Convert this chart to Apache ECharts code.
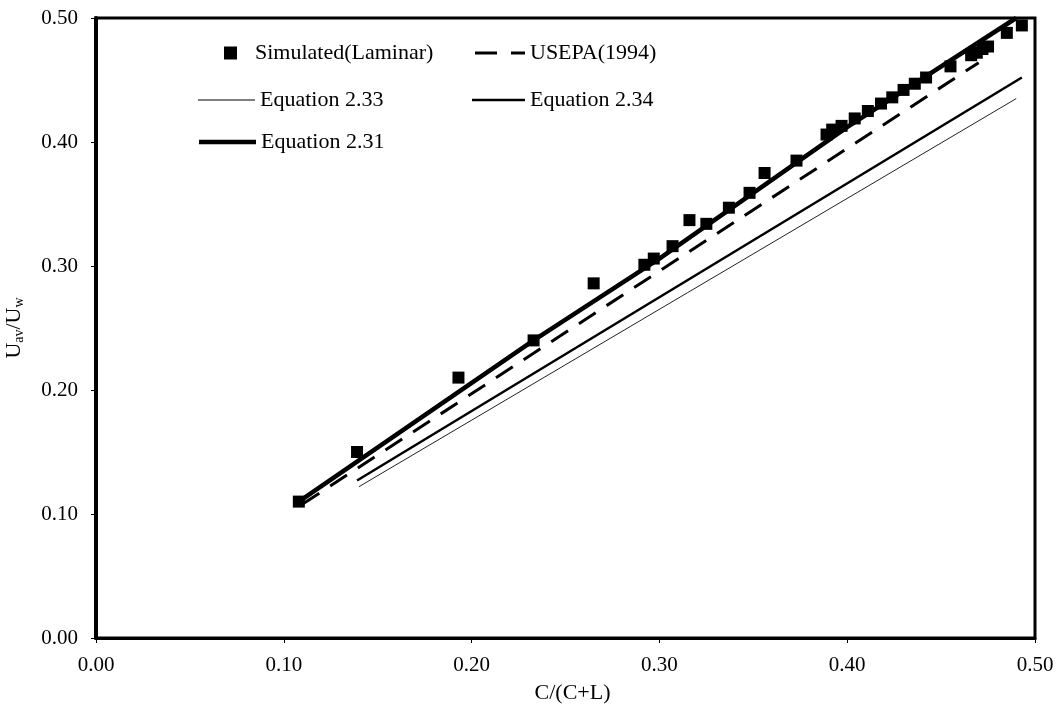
<!DOCTYPE html>
<html>
<head>
<meta charset="utf-8">
<script src="https://cdn.jsdelivr.net/npm/echarts@6/dist/echarts.min.js"></script>
<style>
html,body{margin:0;padding:0;background:#fff;}
#chart{width:1062px;height:705px;}
</style>
</head>
<body>
<div id="chart"></div>
<script>
// simulated (laminar) points
var simX = [0.108,0.139,0.193,0.233,0.265,0.292,0.297,0.307,0.316,0.325,0.337,0.348,0.356,0.373,0.389,0.392,0.397,0.404,0.411,0.418,0.424,0.430,0.436,0.442,0.455,0.466,0.469,0.472,0.475,0.485,0.493];
var simY = [0.110,0.150,0.210,0.240,0.286,0.301,0.306,0.316,0.337,0.334,0.347,0.359,0.375,0.385,0.406,0.410,0.413,0.419,0.425,0.431,0.436,0.442,0.447,0.452,0.461,0.470,0.472,0.475,0.477,0.488,0.494];
// lines
var usepaX = [0.110, 0.470];
var usepaY = [0.108, 0.464];
var eq233X = [0.140, 0.490];
var eq233Y = [0.122, 0.435];
var eq234X = [0.139, 0.493];
var eq234Y = [0.127, 0.452];
var eq231X = [0.108, 0.233, 0.300, 0.400, 0.490];
var eq231Y = [0.110, 0.240, 0.306, 0.412, 0.500];

var FONT = 'Liberation Serif';
function pairs(xs, ys){
  var out = [];
  for (var i = 0; i < xs.length; i++) out.push([xs[i], ys[i]]);
  return out;
}
function fmt(v){ return v.toFixed(2); }

var myChart = echarts.init(document.getElementById('chart'));

//图例: 每项单独放
function oneLegend(name, icon, left, top, w, h, pad){
  return {
    data: [{name: name, icon: icon, itemStyle: {color: '#000', opacity: 1}}],
    left: left, top: top,
    itemWidth: w, itemHeight: h,
    textStyle: {fontFamily: FONT, fontSize: 22, color: '#000', padding: [0,0,0,pad || 0]},
    selectedMode: false
  };
}

var option = {
  animation: false,
  backgroundColor: '#fff',
  color: ['#000'],
  grid: {left: 96, right: 27, top: 18, bottom: 67, outerBoundsMode: 'none',
         show: true, borderColor: '#000', borderWidth: 3},
  legend: [
    oneLegend('Simulated(Laminar)', 'rect', 219, 37, 13, 13, 13),
    oneLegend('USEPA(1994)', 'path://M0,0h22v3h-22z M36,0h14v3h-14z', 470, 37, 50, 3),
    oneLegend('Equation 2.33', 'rect', 193, 84, 57, 1),
    oneLegend('Equation 2.34', 'rect', 467, 84, 53, 2.5),
    oneLegend('Equation 2.31', 'rect', 194, 126, 57, 4.5)
  ],
  xAxis: {
    type: 'value', min: 0, max: 0.5, interval: 0.1,
    name: 'C/(C+L)', nameLocation: 'middle', nameGap: 44,
    nameTextStyle: {fontFamily: FONT, fontSize: 22, color: '#000', padding: [0,0,0,14]},
    axisLine: {lineStyle: {color: '#000', width: 3}},
    axisTick: {show: true, length: 5, lineStyle: {color: '#000', width: 1}},
    axisLabel: {fontFamily: FONT, fontSize: 21, color: '#000', margin: 17, formatter: fmt},
    splitLine: {show: false}
  },
  yAxis: {
    type: 'value', min: 0, max: 0.5, interval: 0.1,
    name: '{n|U}{s|av}{n|/U}{s|w}', nameLocation: 'middle', nameGap: 70,
    nameTextStyle: {
      fontFamily: FONT, fontSize: 22, color: '#000',
      rich: {
        n: {fontFamily: FONT, fontSize: 22, color: '#000'},
        s: {fontFamily: FONT, fontSize: 14, color: '#000', padding: [10,0,0,0]}
      }
    },
    axisLine: {lineStyle: {color: '#000', width: 4}},
    axisTick: {show: true, length: 5, lineStyle: {color: '#000', width: 1}},
    axisLabel: {fontFamily: FONT, fontSize: 21, color: '#000', margin: 18, formatter: fmt},
    splitLine: {show: false}
  },
  series: [
    {name: 'USEPA(1994)', type: 'line', data: pairs(usepaX, usepaY), symbol: 'none',
     itemStyle: {color: '#000'}, lineStyle: {color: '#000', width: 3, type: [20, 13]}, z: 2},
    {name: 'Equation 2.33', type: 'line', data: pairs(eq233X, eq233Y), symbol: 'none',
     itemStyle: {color: '#000'}, lineStyle: {color: '#222', width: 1}, z: 2},
    {name: 'Equation 2.34', type: 'line', data: pairs(eq234X, eq234Y), symbol: 'none',
     itemStyle: {color: '#000'}, lineStyle: {color: '#000', width: 2.5}, z: 2},
    {name: 'Equation 2.31', type: 'line', data: pairs(eq231X, eq231Y), symbol: 'none',
     itemStyle: {color: '#000'}, lineStyle: {color: '#000', width: 4.5}, z: 3},
    {name: 'Simulated(Laminar)', type: 'scatter', data: pairs(simX, simY), symbol: 'rect',
     symbolSize: 12, itemStyle: {color: '#000', opacity: 1}, z: 4}
  ]
};
myChart.setOption(option);
</script>
</body>
</html>
